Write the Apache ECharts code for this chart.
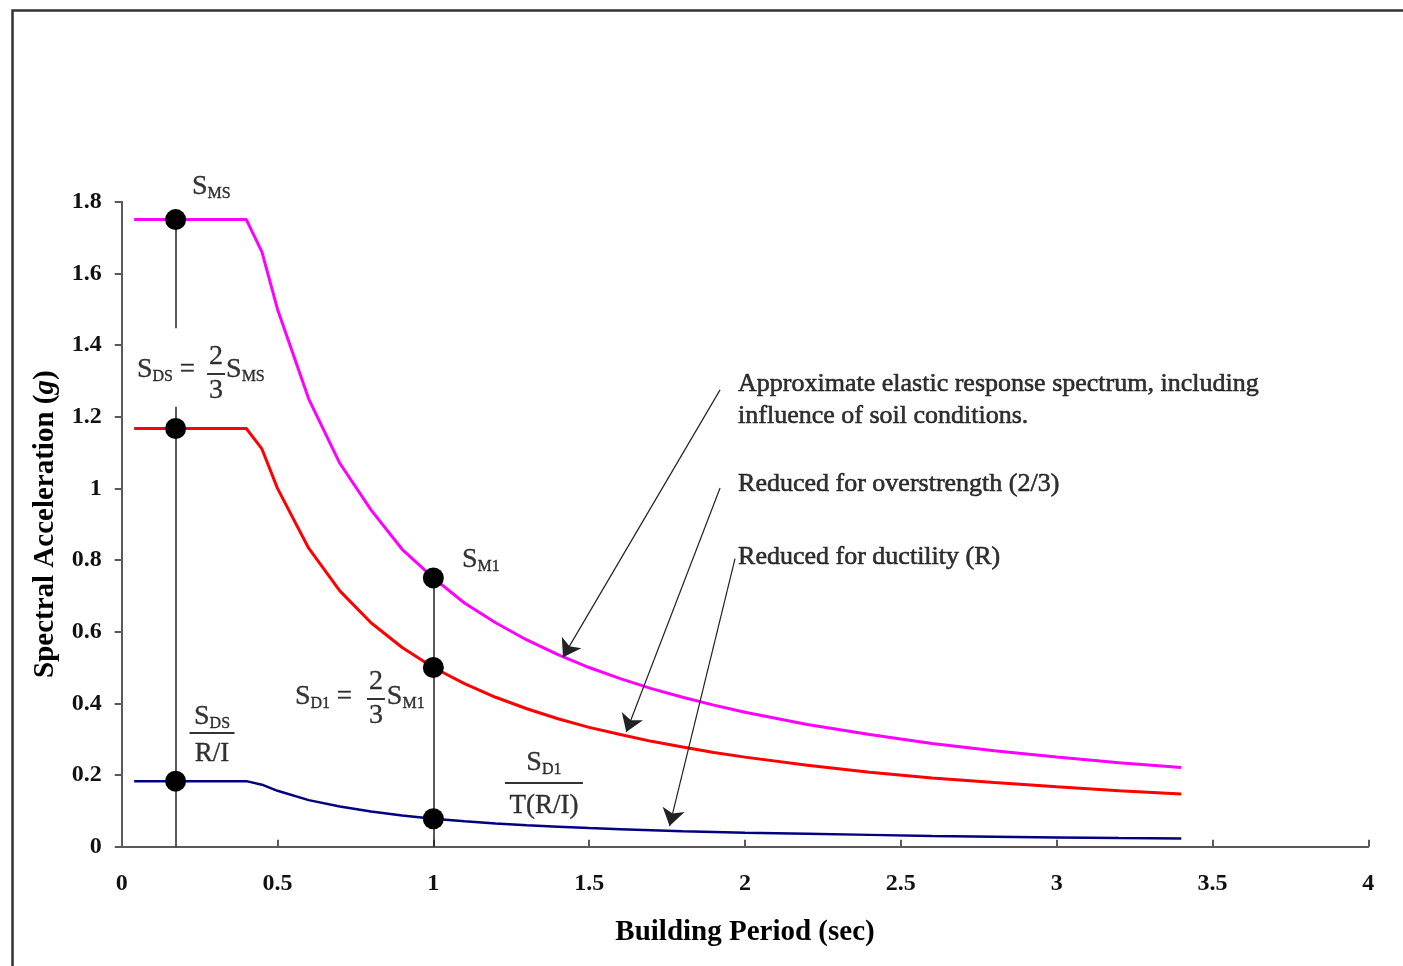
<!DOCTYPE html>
<html><head><meta charset="utf-8">
<script src="https://cdn.jsdelivr.net/npm/echarts@6/dist/echarts.min.js"></script>
<style>html,body{margin:0;padding:0;background:#fff}#c{width:1403px;height:966px}</style>
</head><body><div id="c"></div>
<script>
// ---- data ----
const periods = [0.04,0.4,0.45,0.5,0.6,0.7,0.8,0.9,1.0,1.1,1.2,1.3,1.4,1.5,1.6,1.7,1.8,1.9,2.0,2.2,2.4,2.6,2.8,3.0,3.2,3.4];
const saElastic = [1.75,1.75,1.66,1.50,1.25,1.07,0.94,0.83,0.75,0.68,0.625,0.577,0.536,0.50,0.469,0.441,0.417,0.395,0.375,0.341,0.313,0.288,0.268,0.25,0.234,0.221];
const saOverstrength = [1.167,1.167,1.11,1.0,0.833,0.714,0.625,0.556,0.50,0.455,0.417,0.385,0.357,0.333,0.313,0.294,0.278,0.263,0.25,0.227,0.208,0.192,0.179,0.167,0.156,0.147];
const saDuctility = [0.183,0.183,0.173,0.156,0.130,0.112,0.098,0.087,0.078,0.071,0.065,0.060,0.056,0.052,0.049,0.046,0.043,0.041,0.039,0.036,0.033,0.030,0.028,0.026,0.024,0.023];
const keyPoints = [[0.173,1.75],[0.173,1.167],[0.173,0.183],[1.0,0.75],[1.0,0.5],[1.0,0.078]];
const guideLines = [[[0.173,1.75],[0.173,1.447]],[[0.173,1.228],[0.173,0]],[[1.0,0.75],[1.0,0]]];
const arrowLines = [[[1.920,1.275],[1.416,0.529]],[[1.920,1.001],[1.619,0.320]],[[1.968,0.804],[1.758,0.058]]];
const xAxisName = 'Building Period (sec)';
const yAxisName = 'Spectral Acceleration ({i|g})';
const notes = [
  {at:[0.2256,1.841], align:'left',   text:'{s|S}{sub|MS}'},
  {at:[0.049,1.330],  align:'left',   text:'{s|S}{sub|DS}{eq| =}'},
  {at:[0.303,1.319],  align:'center', text:'{n|2}\n{b18| }\n{n|3}'},
  {at:[0.335,1.330],  align:'left',   text:'{s|S}{sub|MS}'},
  {at:[0.290,0.303],  align:'center', text:'{s|S}{sub|DS}\n{b45| }\n{d40|R/I}'},
  {at:[1.092,0.800],  align:'left',   text:'{s|S}{sub|M1}'},
  {at:[0.556,0.418],  align:'left',   text:'{s|S}{sub|D1}{eq| =}'},
  {at:[0.816,0.412],  align:'center', text:'{n|2}\n{b18| }\n{n|3}'},
  {at:[0.851,0.418],  align:'left',   text:'{s|S}{sub|M1}'},
  {at:[1.355,0.164],  align:'center', text:'{s|S}{sub|D1}\n{sp| }\n{b78| }\n{d44|T(R/I)}'},
  {at:[1.978,1.246],  align:'left',   text:'{t|Approximate elastic response spectrum, including}\n{t|influence of soil conditions.}'},
  {at:[1.978,1.012],  align:'left',   text:'{t|Reduced for overstrength (2/3)}'},
  {at:[1.978,0.808],  align:'left',   text:'{t|Reduced for ductility (R)}'}
];
// ---- chart ----
const SERIF = "'Liberation Serif','Times New Roman',serif";
const ink = {color:'#000',textBorderColor:'#000',textBorderWidth:0.35};
const rich = {
  s:Object.assign({fontFamily:SERIF,fontSize:28,lineHeight:30},ink),
  sub:Object.assign({fontFamily:SERIF,fontSize:16,lineHeight:12,verticalAlign:'bottom'},ink),
  eq:Object.assign({fontFamily:SERIF,fontSize:27,lineHeight:30},ink),
  n:Object.assign({fontFamily:SERIF,fontSize:28,lineHeight:32},ink),
  d40:Object.assign({fontFamily:SERIF,fontSize:27,lineHeight:40},ink),
  d44:Object.assign({fontFamily:SERIF,fontSize:27,lineHeight:44},ink),
  sp:{fontSize:1,lineHeight:4,height:4},
  b18:{fontSize:1,lineHeight:2,height:2,width:18,backgroundColor:'#000'},
  b45:{fontSize:1,lineHeight:2,height:2,width:45,backgroundColor:'#000'},
  b78:{fontSize:1,lineHeight:2,height:2,width:78,backgroundColor:'#000'},
  t:Object.assign({fontFamily:SERIF,fontSize:26,lineHeight:32},ink,{textBorderWidth:0.6})
};
const zip = (xs, ys) => xs.map((x,i)=>[x,ys[i]]);
const curve = (data,color,width) => ({type:'line',data,showSymbol:false,silent:true,z:3,
  lineStyle:{color,width},itemStyle:{color},emphasis:{disabled:true}});
const axisColor = '#5a5a5a';
const option = {
  animation:false,
  backgroundColor:'#fff',
  grid:{left:121.7,right:34.7,top:201.7,bottom:119.3,containLabel:false},
  xAxis:{type:'value',min:0,max:4,interval:0.5,
    name:xAxisName,nameLocation:'middle',nameGap:71,
    nameTextStyle:{fontFamily:SERIF,fontSize:29,fontWeight:'bold',color:'#000'},
    axisLine:{lineStyle:{color:axisColor,width:2}},
    axisTick:{inside:true,length:7,lineStyle:{color:axisColor,width:2}},
    axisLabel:{margin:25,fontFamily:SERIF,fontSize:24,fontWeight:'bold',color:'#111'},
    splitLine:{show:false}},
  yAxis:{type:'value',min:0,max:1.8,interval:0.2,
    name:yAxisName,nameLocation:'middle',nameGap:62,
    nameTextStyle:{fontFamily:SERIF,fontSize:29,fontWeight:'bold',color:'#000',
      rich:{i:{fontFamily:SERIF,fontSize:29,fontWeight:'bold',fontStyle:'italic',color:'#000'}}},
    axisLine:{show:true,lineStyle:{color:axisColor,width:2}},
    axisTick:{show:true,inside:false,length:7,lineStyle:{color:axisColor,width:2}},
    axisLabel:{margin:20,fontFamily:SERIF,fontSize:24,fontWeight:'bold',color:'#111'},
    splitLine:{show:false}},
  graphic:[{type:'rect',left:10,top:8,shape:{x:0,y:0,width:1440,height:1000},
    style:{fill:'none',stroke:'#333',lineWidth:2.5},silent:true}],
  series:[
    {type:'lines',coordinateSystem:'cartesian2d',silent:true,z:2,
      data:guideLines.map(c=>({coords:c})),lineStyle:{color:'#222',width:1.5,opacity:1}},
    curve(zip(periods,saElastic),'#FF00FF',3),
    curve(zip(periods,saOverstrength),'#FF0000',3),
    curve(zip(periods,saDuctility),'#000080',2.5),
    {type:'lines',coordinateSystem:'cartesian2d',silent:true,z:4,
      symbol:['none','arrow'],symbolSize:[13,17],
      data:arrowLines.map(c=>({coords:c})),lineStyle:{color:'#222',width:1.2,opacity:1}},
    {type:'scatter',data:keyPoints,symbolSize:21,z:5,silent:true,
      itemStyle:{color:'#000',opacity:1},emphasis:{disabled:true}},
    {type:'scatter',z:6,silent:true,clip:false,symbolSize:0.1,
      itemStyle:{color:'rgba(0,0,0,0)'},emphasis:{disabled:true},
      data:notes.map(n=>({value:n.at,label:{show:true,position:[0,0],align:n.align,
        verticalAlign:'middle',formatter:n.text,rich}}))}
  ]
};
const chart = echarts.init(document.getElementById('c'),null,{renderer:'canvas'});
chart.setOption(option);
</script></body></html>
